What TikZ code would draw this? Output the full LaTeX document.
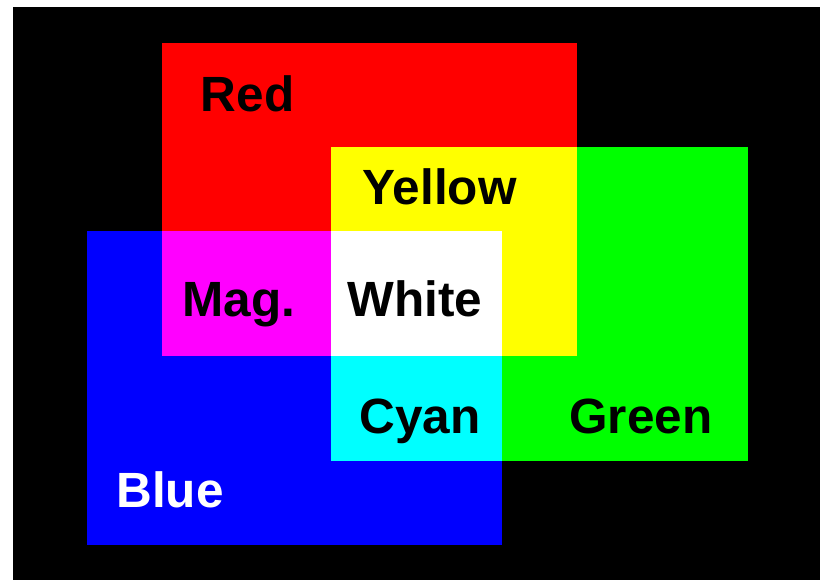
\documentclass[tikz,border=0pt]{standalone}
\usepackage{fontspec}
\setmainfont{Liberation Sans}
\begin{document}
\begin{tikzpicture}[x=1pt,y=-1pt,
  lbl/.style={anchor=base,inner sep=0pt,font=\fontsize{49.5}{56}\selectfont\bfseries}]
\useasboundingbox (0,0) rectangle (820,580);
\fill[white] (0,0) rectangle (820,580);
\fill[black] (13,7) rectangle (820,580);
\definecolor{cR}{RGB}{255,0,0}
\definecolor{cG}{RGB}{0,255,0}
\definecolor{cB}{RGB}{0,0,255}
\definecolor{cY}{RGB}{255,255,0}
\definecolor{cM}{RGB}{255,0,255}
\definecolor{cC}{RGB}{0,255,255}
% primaries
\fill[cR] (162,43) rectangle (577,356);
\fill[cG] (331,147) rectangle (748,461);
\fill[cB] (87,231) rectangle (502,545);
% overlaps
\fill[cY] (331,147) rectangle (577,356);
\fill[cM] (162,231) rectangle (502,356);
\fill[cC] (331,231) rectangle (502,461);
\fill[white] (331,231) rectangle (502,356);
% labels
\node[lbl] (red) at (247.5,112) {Red};
\node[lbl] (yellow) at (439.5,205) {Yellow};
\node[lbl] (mag) at (239,317) {Mag.};
\node[lbl] (white) at (415,317) {White};
\node[lbl] (cyan) at (420,433) {Cyan};
\node[lbl] (green) at (641,433) {Green};
\node[lbl,text=white] (blue) at (170,507) {Blue};
\end{tikzpicture}
\end{document}
